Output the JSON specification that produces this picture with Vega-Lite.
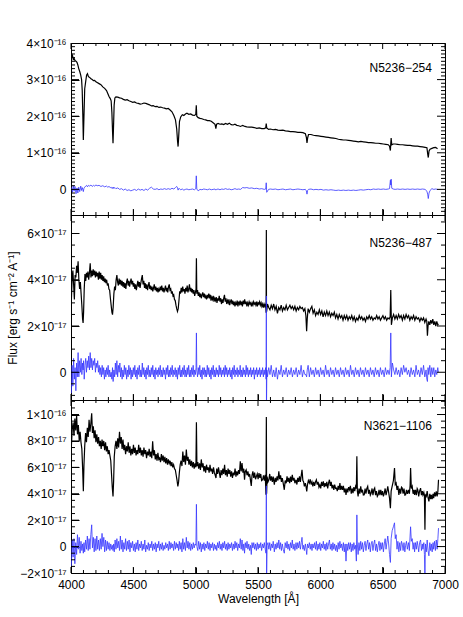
{
"$schema": "https://vega.github.io/schema/vega-lite/v6.json",
"padding": {"left": 5, "top": 36, "right": 2, "bottom": 2},
"spacing": 0,
"bounds": "flush",
"config": {
  "view": {"stroke": "black", "strokeWidth": 1},
  "font": "Liberation Sans",
  "axis": {"domain": false, "ticks": true, "zindex": 2, "tickColor": "#000000", "tickOpacity": 1, "labelColor": "black", "titleColor": "black", "labelFont": "Liberation Sans", "labelFontSize": 12, "titleFont": "Liberation Sans", "titleFontSize": 12, "titleFontWeight": "normal", "grid": false, "labelOverlap": false, "labelFlush": false, "tickWidth": 1}
},
"datasets": {
"xt": [{"v":4000,"m":1},{"v":4100,"m":0},{"v":4200,"m":0},{"v":4300,"m":0},{"v":4400,"m":0},{"v":4500,"m":1},{"v":4600,"m":0},{"v":4700,"m":0},{"v":4800,"m":0},{"v":4900,"m":0},{"v":5000,"m":1},{"v":5100,"m":0},{"v":5200,"m":0},{"v":5300,"m":0},{"v":5400,"m":0},{"v":5500,"m":1},{"v":5600,"m":0},{"v":5700,"m":0},{"v":5800,"m":0},{"v":5900,"m":0},{"v":6000,"m":1},{"v":6100,"m":0},{"v":6200,"m":0},{"v":6300,"m":0},{"v":6400,"m":0},{"v":6500,"m":1},{"v":6600,"m":0},{"v":6700,"m":0},{"v":6800,"m":0},{"v":6900,"m":0},{"v":7000,"m":1}],
"yt1": [{"v":-6,"m":0},{"v":-5,"m":0},{"v":-4,"m":0},{"v":-3,"m":0},{"v":-2,"m":0},{"v":-1,"m":0},{"v":0,"m":1},{"v":1,"m":0},{"v":2,"m":0},{"v":3,"m":0},{"v":4,"m":0},{"v":5,"m":0},{"v":6,"m":0},{"v":7,"m":0},{"v":8,"m":0},{"v":9,"m":0},{"v":10,"m":1},{"v":11,"m":0},{"v":12,"m":0},{"v":13,"m":0},{"v":14,"m":0},{"v":15,"m":0},{"v":16,"m":0},{"v":17,"m":0},{"v":18,"m":0},{"v":19,"m":0},{"v":20,"m":1},{"v":21,"m":0},{"v":22,"m":0},{"v":23,"m":0},{"v":24,"m":0},{"v":25,"m":0},{"v":26,"m":0},{"v":27,"m":0},{"v":28,"m":0},{"v":29,"m":0},{"v":30,"m":1},{"v":31,"m":0},{"v":32,"m":0},{"v":33,"m":0},{"v":34,"m":0},{"v":35,"m":0},{"v":36,"m":0},{"v":37,"m":0},{"v":38,"m":0},{"v":39,"m":0}],
"yt2": [{"v":-1,"m":0},{"v":-0.5,"m":0},{"v":0,"m":1},{"v":0.5,"m":0},{"v":1,"m":0},{"v":1.5,"m":0},{"v":2,"m":1},{"v":2.5,"m":0},{"v":3,"m":0},{"v":3.5,"m":0},{"v":4,"m":1},{"v":4.5,"m":0},{"v":5,"m":0},{"v":5.5,"m":0},{"v":6,"m":1},{"v":6.5,"m":0}],
"yt3": [{"v":-1.5,"m":0},{"v":-1,"m":0},{"v":-0.5,"m":0},{"v":0,"m":1},{"v":0.5,"m":0},{"v":1,"m":0},{"v":1.5,"m":0},{"v":2,"m":1},{"v":2.5,"m":0},{"v":3,"m":0},{"v":3.5,"m":0},{"v":4,"m":1},{"v":4.5,"m":0},{"v":5,"m":0},{"v":5.5,"m":0},{"v":6,"m":1},{"v":6.5,"m":0},{"v":7,"m":0},{"v":7.5,"m":0},{"v":8,"m":1},{"v":8.5,"m":0},{"v":9,"m":0},{"v":9.5,"m":0},{"v":10,"m":1},{"v":10.5,"m":0},{"v":11,"m":0}],
"p1": [
{"w":4005,"f":36.0,"r":0.5},{"w":4012,"f":36.6,"r":-0.8},{"w":4018,"f":35.5,"r":1.0},{"w":4025,"f":35.8,"r":-0.5},{"w":4032,"f":35.2,"r":0.8},{"w":4040,"f":35.0,"r":-1.2},{"w":4048,"f":34.7,"r":0.4},{"w":4055,"f":34.0,"r":-1.0},{"w":4062,"f":33.0,"r":0.6},{"w":4070,"f":32.2,"r":-0.6},{"w":4078,"f":31.2,"r":0.9},{"w":4085,"f":30.0,"r":-0.3},{"w":4090,"f":27.0,"r":0.5},{"w":4095,"f":20.0,"r":0.0},{"w":4099,"f":13.5,"r":-0.6},{"w":4104,"f":20.0,"r":0.3},{"w":4110,"f":27.5,"r":0.6},{"w":4118,"f":29.5,"r":0.9},{"w":4125,"f":31.2,"r":1.1},{"w":4132,"f":31.6,"r":0.7},{"w":4140,"f":30.8,"r":1.1},{"w":4150,"f":30.6,"r":0.9},{"w":4160,"f":30.2,"r":1.2},{"w":4170,"f":30.0,"r":0.8},{"w":4180,"f":29.7,"r":1.1},{"w":4190,"f":29.8,"r":0.9},{"w":4200,"f":29.4,"r":1.2},{"w":4210,"f":29.2,"r":1.0},{"w":4225,"f":28.9,"r":1.1},{"w":4240,"f":28.6,"r":0.8},{"w":4255,"f":28.0,"r":1.0},{"w":4270,"f":27.6,"r":0.7},{"w":4285,"f":27.0,"r":0.9},{"w":4295,"f":26.2,"r":0.6},{"w":4305,"f":25.4,"r":0.8},{"w":4315,"f":24.8,"r":0.5},{"w":4322,"f":24.2,"r":0.6},{"w":4328,"f":21.0,"r":0.3},{"w":4333,"f":16.0,"r":0.5},{"w":4337,"f":12.6,"r":0.2},{"w":4341,"f":17.0,"r":0.6},{"w":4346,"f":23.0,"r":0.3},{"w":4352,"f":25.0,"r":0.5},{"w":4360,"f":25.3,"r":0.2},{"w":4375,"f":25.2,"r":0.4},{"w":4390,"f":25.0,"r":0.0},{"w":4405,"f":24.9,"r":0.2},{"w":4420,"f":24.6,"r":-0.2},{"w":4435,"f":24.4,"r":0.1},{"w":4450,"f":24.5,"r":-0.3},{"w":4465,"f":24.2,"r":-0.1},{"w":4480,"f":24.0,"r":-0.4},{"w":4495,"f":23.8,"r":-0.2},{"w":4510,"f":23.9,"r":0.0},{"w":4525,"f":23.6,"r":-0.3},{"w":4540,"f":23.5,"r":0.1},{"w":4555,"f":23.3,"r":-0.2},{"w":4570,"f":23.4,"r":0.0},{"w":4585,"f":23.6,"r":-0.3},{"w":4600,"f":23.5,"r":0.1},{"w":4615,"f":23.3,"r":-0.2},{"w":4630,"f":23.1,"r":0.3},{"w":4645,"f":22.8,"r":0.6},{"w":4660,"f":22.9,"r":0.1},{"w":4675,"f":22.6,"r":0.0},{"w":4690,"f":22.7,"r":0.2},{"w":4705,"f":22.4,"r":-0.1},{"w":4720,"f":22.5,"r":0.1},{"w":4735,"f":22.3,"r":0.0},{"w":4750,"f":22.2,"r":0.2},{"w":4765,"f":22.0,"r":0.0},{"w":4780,"f":22.1,"r":0.2},{"w":4795,"f":21.7,"r":0.0},{"w":4810,"f":21.2,"r":0.3},{"w":4825,"f":20.2,"r":0.1},{"w":4838,"f":19.0,"r":0.5},{"w":4848,"f":16.5,"r":0.8},{"w":4855,"f":13.0,"r":0.4},{"w":4859,"f":11.7,"r":-0.2},{"w":4864,"f":14.5,"r":0.2},{"w":4870,"f":18.5,"r":0.2},{"w":4880,"f":19.8,"r":-0.1},{"w":4893,"f":20.4,"r":0.1},{"w":4905,"f":20.2,"r":-0.2},{"w":4918,"f":20.6,"r":0.0},{"w":4930,"f":20.8,"r":0.1},{"w":4945,"f":20.5,"r":-0.1},{"w":4960,"f":20.6,"r":0.0},{"w":4975,"f":20.3,"r":0.1},{"w":4990,"f":20.2,"r":-0.1},{"w":5001,"f":20.5,"r":0.2},{"w":5005,"f":23.0,"r":3.7},{"w":5009,"f":20.0,"r":0.1},{"w":5020,"f":19.6,"r":-0.4},{"w":5035,"f":19.4,"r":0.0},{"w":5050,"f":19.3,"r":-0.1},{"w":5065,"f":19.1,"r":0.1},{"w":5080,"f":19.0,"r":0.0},{"w":5095,"f":18.8,"r":-0.1},{"w":5110,"f":18.8,"r":0.1},{"w":5125,"f":18.6,"r":-0.1},{"w":5140,"f":18.2,"r":0.0},{"w":5155,"f":17.8,"r":0.1},{"w":5162,"f":16.6,"r":-0.2},{"w":5168,"f":17.8,"r":0.0},{"w":5180,"f":18.0,"r":0.1},{"w":5195,"f":17.8,"r":-0.1},{"w":5210,"f":17.9,"r":0.1},{"w":5225,"f":17.7,"r":0.0},{"w":5240,"f":18.0,"r":0.2},{"w":5255,"f":17.8,"r":0.0},{"w":5270,"f":18.1,"r":0.1},{"w":5285,"f":17.7,"r":-0.1},{"w":5300,"f":17.6,"r":0.0},{"w":5315,"f":17.8,"r":0.2},{"w":5330,"f":17.5,"r":0.0},{"w":5345,"f":17.4,"r":0.1},{"w":5360,"f":17.2,"r":0.0},{"w":5377,"f":17.5,"r":0.5},{"w":5395,"f":17.2,"r":0.4},{"w":5410,"f":17.1,"r":0.5},{"w":5430,"f":17.0,"r":0.3},{"w":5450,"f":17.0,"r":0.4},{"w":5470,"f":16.9,"r":0.2},{"w":5490,"f":16.7,"r":0.3},{"w":5510,"f":16.8,"r":0.1},{"w":5530,"f":16.6,"r":0.2},{"w":5550,"f":16.6,"r":0.0},{"w":5562,"f":16.8,"r":0.1},{"w":5566,"f":18.0,"r":1.8},{"w":5570,"f":16.8,"r":-0.8},{"w":5585,"f":16.4,"r":0.0},{"w":5600,"f":16.5,"r":0.1},{"w":5620,"f":16.3,"r":0.0},{"w":5640,"f":16.4,"r":0.1},{"w":5660,"f":16.2,"r":-0.1},{"w":5680,"f":16.1,"r":0.0},{"w":5700,"f":16.2,"r":0.1},{"w":5720,"f":16.0,"r":-0.1},{"w":5740,"f":15.9,"r":0.0},{"w":5760,"f":15.8,"r":0.1},{"w":5780,"f":15.8,"r":-0.1},{"w":5800,"f":15.7,"r":0.0},{"w":5820,"f":15.6,"r":0.1},{"w":5840,"f":15.6,"r":0.0},{"w":5860,"f":15.5,"r":-0.1},{"w":5880,"f":15.2,"r":0.0},{"w":5888,"f":14.2,"r":-0.4},{"w":5893,"f":12.7,"r":-1.3},{"w":5898,"f":14.0,"r":-0.3},{"w":5905,"f":15.0,"r":0.0},{"w":5925,"f":15.0,"r":0.1},{"w":5945,"f":14.8,"r":-0.1},{"w":5965,"f":14.7,"r":0.0},{"w":5985,"f":14.6,"r":-0.1},{"w":6005,"f":14.5,"r":0.0},{"w":6025,"f":14.4,"r":-0.2},{"w":6045,"f":14.3,"r":-0.1},{"w":6065,"f":14.2,"r":-0.2},{"w":6085,"f":14.1,"r":-0.1},{"w":6105,"f":14.0,"r":-0.2},{"w":6125,"f":13.9,"r":-0.3},{"w":6145,"f":13.7,"r":-0.2},{"w":6165,"f":13.6,"r":-0.3},{"w":6185,"f":13.5,"r":-0.2},{"w":6205,"f":13.5,"r":-0.3},{"w":6225,"f":13.4,"r":-0.2},{"w":6245,"f":13.3,"r":-0.3},{"w":6265,"f":13.2,"r":-0.2},{"w":6285,"f":13.1,"r":-0.3},{"w":6305,"f":13.0,"r":-0.2},{"w":6325,"f":13.1,"r":-0.1},{"w":6345,"f":13.0,"r":-0.2},{"w":6365,"f":12.9,"r":-0.1},{"w":6385,"f":12.8,"r":0.0},{"w":6405,"f":12.8,"r":-0.1},{"w":6425,"f":12.7,"r":0.1},{"w":6445,"f":12.6,"r":0.0},{"w":6465,"f":12.6,"r":0.1},{"w":6485,"f":12.5,"r":0.0},{"w":6505,"f":12.4,"r":0.1},{"w":6525,"f":12.3,"r":0.0},{"w":6545,"f":12.2,"r":0.1},{"w":6555,"f":11.8,"r":0.2},{"w":6562,"f":10.6,"r":2.5},{"w":6565,"f":12.5,"r":1.2},{"w":6568,"f":14.0,"r":2.8},{"w":6573,"f":12.2,"r":0.3},{"w":6585,"f":12.4,"r":0.1},{"w":6600,"f":12.4,"r":0.0},{"w":6620,"f":12.3,"r":0.1},{"w":6640,"f":12.2,"r":0.0},{"w":6660,"f":12.2,"r":0.1},{"w":6680,"f":12.1,"r":0.0},{"w":6700,"f":12.0,"r":0.1},{"w":6720,"f":12.0,"r":0.0},{"w":6740,"f":11.9,"r":0.1},{"w":6760,"f":11.8,"r":0.0},{"w":6780,"f":11.8,"r":0.1},{"w":6800,"f":11.7,"r":0.0},{"w":6820,"f":11.6,"r":0.1},{"w":6840,"f":11.5,"r":0.0},{"w":6855,"f":11.4,"r":-0.5},{"w":6862,"f":9.5,"r":-1.5},{"w":6866,"f":8.7,"r":-2.5},{"w":6872,"f":10.5,"r":-1.0},{"w":6880,"f":11.0,"r":-0.3},{"w":6895,"f":11.2,"r":0.2},{"w":6910,"f":11.4,"r":0.0},{"w":6925,"f":11.5,"r":0.1},{"w":6940,"f":11.1,"r":0.0}
],
"p2": [
{"w":4003,"f":3.10,"r":-0.90},{"w":4009,"f":4.05,"r":0.30},{"w":4015,"f":4.40,"r":-0.60},{"w":4021,"f":3.80,"r":0.60},{"w":4027,"f":3.15,"r":-0.30},{"w":4033,"f":4.20,"r":0.20},{"w":4039,"f":4.10,"r":-0.80},{"w":4045,"f":4.60,"r":0.40},{"w":4051,"f":4.30,"r":-0.20},{"w":4057,"f":4.80,"r":0.85},{"w":4063,"f":4.00,"r":-0.20},{"w":4069,"f":3.60,"r":0.50},{"w":4075,"f":3.90,"r":0.00},{"w":4081,"f":3.40,"r":0.60},{"w":4087,"f":2.90,"r":-0.10},{"w":4093,"f":2.30,"r":0.40},{"w":4097,"f":2.13,"r":0.10},{"w":4101,"f":2.60,"r":0.50},{"w":4106,"f":3.60,"r":-0.30},{"w":4112,"f":4.25,"r":0.30},{"w":4118,"f":3.95,"r":0.60},{"w":4124,"f":4.30,"r":0.00},{"w":4130,"f":4.10,"r":0.50},{"w":4136,"f":4.35,"r":0.20},{"w":4142,"f":4.00,"r":0.70},{"w":4148,"f":4.30,"r":0.10},{"w":4154,"f":4.71,"r":0.85},{"w":4160,"f":4.10,"r":0.20},{"w":4166,"f":4.40,"r":0.60},{"w":4172,"f":4.15,"r":0.10},{"w":4178,"f":4.45,"r":0.50},{"w":4184,"f":4.20,"r":0.30},{"w":4190,"f":4.40,"r":0.60},{"w":4196,"f":4.10,"r":0.00},{"w":4202,"f":4.35,"r":0.40},{"w":4208,"f":4.15,"r":0.20},{"w":4214,"f":4.30,"r":0.50},{"w":4220,"f":4.00,"r":0.00},{"w":4226,"f":4.35,"r":0.30},{"w":4232,"f":4.05,"r":-0.10},{"w":4238,"f":4.30,"r":0.20},{"w":4244,"f":4.00,"r":-0.20},{"w":4250,"f":4.20,"r":0.30},{"w":4256,"f":3.95,"r":-0.10},{"w":4262,"f":4.15,"r":0.20},{"w":4268,"f":3.90,"r":-0.30},{"w":4274,"f":4.05,"r":0.10},{"w":4280,"f":3.85,"r":-0.20},{"w":4286,"f":4.00,"r":0.20},{"w":4292,"f":3.75,"r":-0.10},{"w":4298,"f":3.85,"r":0.30},{"w":4304,"f":3.60,"r":-0.20},{"w":4310,"f":3.55,"r":0.10},{"w":4316,"f":3.20,"r":-0.20},{"w":4322,"f":2.90,"r":0.00},{"w":4328,"f":2.60,"r":-0.30},{"w":4333,"f":2.49,"r":0.20},{"w":4338,"f":2.80,"r":-0.40},{"w":4344,"f":3.40,"r":0.10},{"w":4350,"f":3.70,"r":-0.20},{"w":4356,"f":3.55,"r":0.40},{"w":4362,"f":4.00,"r":-0.10},{"w":4368,"f":4.20,"r":0.50},{"w":4374,"f":3.90,"r":-0.20},{"w":4380,"f":3.75,"r":0.30},{"w":4386,"f":4.05,"r":0.00},{"w":4392,"f":3.80,"r":0.40},{"w":4398,"f":4.00,"r":-0.20},{"w":4404,"f":3.75,"r":0.20},{"w":4410,"f":3.95,"r":-0.30},{"w":4416,"f":3.70,"r":0.10},{"w":4422,"f":3.90,"r":-0.20},{"w":4428,"f":3.65,"r":0.30},{"w":4434,"f":3.85,"r":-0.10},{"w":4440,"f":3.60,"r":0.20},{"w":4446,"f":3.90,"r":-0.30},{"w":4452,"f":4.05,"r":0.10},{"w":4458,"f":3.75,"r":-0.20},{"w":4464,"f":3.95,"r":0.30},{"w":4470,"f":3.70,"r":-0.10},{"w":4476,"f":3.90,"r":0.20},{"w":4482,"f":4.05,"r":-0.30},{"w":4488,"f":3.80,"r":0.10},{"w":4494,"f":3.95,"r":-0.20},{"w":4500,"f":3.70,"r":0.20},{"w":4506,"f":3.85,"r":-0.10},{"w":4512,"f":3.60,"r":0.30},{"w":4518,"f":3.80,"r":-0.20},{"w":4524,"f":3.55,"r":0.10},{"w":4530,"f":3.75,"r":-0.30},{"w":4536,"f":3.95,"r":0.20},{"w":4542,"f":3.70,"r":-0.10},{"w":4548,"f":3.90,"r":0.30},{"w":4554,"f":3.65,"r":-0.20},{"w":4560,"f":3.85,"r":0.10},{"w":4566,"f":4.05,"r":-0.20},{"w":4572,"f":4.20,"r":0.40},{"w":4578,"f":3.80,"r":-0.10},{"w":4584,"f":3.95,"r":0.20},{"w":4590,"f":3.65,"r":-0.20},{"w":4596,"f":3.85,"r":0.10},{"w":4602,"f":3.60,"r":-0.30},{"w":4608,"f":3.80,"r":0.20},{"w":4614,"f":3.55,"r":-0.10},{"w":4620,"f":3.75,"r":0.30},{"w":4626,"f":3.90,"r":-0.20},{"w":4632,"f":3.60,"r":0.10},{"w":4638,"f":3.75,"r":-0.20},{"w":4644,"f":3.55,"r":0.20},{"w":4650,"f":3.70,"r":-0.10},{"w":4656,"f":3.50,"r":0.30},{"w":4662,"f":3.65,"r":-0.20},{"w":4668,"f":3.80,"r":0.10},{"w":4674,"f":3.55,"r":-0.30},{"w":4680,"f":3.70,"r":0.20},{"w":4686,"f":3.50,"r":-0.10},{"w":4692,"f":3.65,"r":0.10},{"w":4698,"f":3.45,"r":-0.20},{"w":4704,"f":3.60,"r":0.20},{"w":4710,"f":3.50,"r":-0.10},{"w":4716,"f":3.70,"r":0.30},{"w":4722,"f":3.55,"r":-0.20},{"w":4728,"f":3.75,"r":0.10},{"w":4734,"f":3.50,"r":-0.20},{"w":4740,"f":3.65,"r":0.20},{"w":4746,"f":3.45,"r":-0.10},{"w":4752,"f":3.60,"r":0.10},{"w":4758,"f":3.75,"r":-0.30},{"w":4764,"f":3.50,"r":0.20},{"w":4770,"f":3.65,"r":-0.10},{"w":4776,"f":3.45,"r":0.30},{"w":4782,"f":3.70,"r":-0.20},{"w":4788,"f":3.80,"r":0.10},{"w":4794,"f":3.55,"r":-0.20},{"w":4800,"f":3.60,"r":0.20},{"w":4806,"f":3.40,"r":-0.10},{"w":4812,"f":3.50,"r":0.30},{"w":4818,"f":3.30,"r":-0.20},{"w":4824,"f":3.35,"r":0.10},{"w":4830,"f":3.15,"r":-0.10},{"w":4836,"f":3.10,"r":0.20},{"w":4842,"f":2.90,"r":-0.20},{"w":4848,"f":2.75,"r":0.10},{"w":4854,"f":2.63,"r":-0.30},{"w":4860,"f":2.75,"r":0.20},{"w":4866,"f":3.10,"r":-0.10},{"w":4872,"f":3.50,"r":0.30},{"w":4878,"f":3.40,"r":-0.20},{"w":4884,"f":3.65,"r":0.10},{"w":4890,"f":3.45,"r":-0.20},{"w":4896,"f":3.70,"r":0.20},{"w":4902,"f":3.50,"r":-0.10},{"w":4908,"f":3.60,"r":0.30},{"w":4914,"f":3.40,"r":-0.20},{"w":4920,"f":3.65,"r":0.10},{"w":4926,"f":3.50,"r":-0.20},{"w":4932,"f":3.75,"r":0.20},{"w":4938,"f":3.45,"r":-0.10},{"w":4944,"f":3.60,"r":0.30},{"w":4950,"f":3.80,"r":-0.20},{"w":4956,"f":3.50,"r":0.10},{"w":4962,"f":3.65,"r":-0.20},{"w":4968,"f":3.45,"r":0.20},{"w":4974,"f":3.60,"r":-0.10},{"w":4980,"f":3.40,"r":0.30},{"w":4986,"f":3.55,"r":-0.20},{"w":4992,"f":3.30,"r":0.10},{"w":4998,"f":3.45,"r":-0.10},{"w":5003,"f":3.60,"r":0.20},{"w":5006,"f":4.93,"r":1.70},{"w":5009,"f":3.40,"r":0.10},{"w":5015,"f":3.55,"r":-0.20},{"w":5021,"f":3.30,"r":0.20},{"w":5027,"f":3.45,"r":-0.10},{"w":5033,"f":3.25,"r":0.30},{"w":5039,"f":3.40,"r":-0.20},{"w":5045,"f":3.20,"r":0.10},{"w":5051,"f":3.35,"r":-0.30},{"w":5057,"f":3.45,"r":0.20},{"w":5063,"f":3.25,"r":-0.10},{"w":5069,"f":3.40,"r":0.20},{"w":5075,"f":3.20,"r":-0.20},{"w":5081,"f":3.30,"r":0.10},{"w":5087,"f":3.15,"r":-0.20},{"w":5093,"f":3.35,"r":0.30},{"w":5099,"f":3.20,"r":-0.10},{"w":5105,"f":3.40,"r":0.20},{"w":5111,"f":3.25,"r":-0.20},{"w":5117,"f":3.35,"r":0.10},{"w":5123,"f":3.10,"r":-0.30},{"w":5129,"f":3.25,"r":0.20},{"w":5135,"f":3.15,"r":-0.10},{"w":5141,"f":3.30,"r":0.30},{"w":5147,"f":3.05,"r":-0.20},{"w":5153,"f":3.20,"r":0.10},{"w":5159,"f":3.10,"r":-0.20},{"w":5165,"f":3.25,"r":0.20},{"w":5171,"f":3.00,"r":-0.10},{"w":5177,"f":3.20,"r":0.10},{"w":5183,"f":3.10,"r":-0.20},{"w":5189,"f":3.30,"r":0.30},{"w":5195,"f":3.05,"r":-0.10},{"w":5201,"f":3.20,"r":0.20},{"w":5207,"f":2.95,"r":-0.20},{"w":5213,"f":3.15,"r":0.10},{"w":5219,"f":3.00,"r":-0.10},{"w":5225,"f":3.20,"r":0.20},{"w":5231,"f":3.35,"r":-0.20},{"w":5237,"f":3.05,"r":0.30},{"w":5243,"f":3.20,"r":-0.10},{"w":5249,"f":2.95,"r":0.20},{"w":5255,"f":3.10,"r":-0.20},{"w":5261,"f":3.00,"r":0.10},{"w":5267,"f":3.15,"r":-0.10},{"w":5273,"f":2.90,"r":0.20},{"w":5279,"f":3.05,"r":-0.20},{"w":5285,"f":3.15,"r":0.10},{"w":5291,"f":2.95,"r":-0.30},{"w":5297,"f":3.10,"r":0.20},{"w":5303,"f":2.90,"r":-0.10},{"w":5309,"f":3.05,"r":0.30},{"w":5315,"f":2.85,"r":-0.20},{"w":5321,"f":3.00,"r":0.10},{"w":5327,"f":2.90,"r":-0.10},{"w":5333,"f":3.10,"r":0.20},{"w":5339,"f":2.85,"r":-0.20},{"w":5345,"f":3.05,"r":0.10},{"w":5351,"f":2.95,"r":-0.10},{"w":5357,"f":3.10,"r":0.30},{"w":5363,"f":2.90,"r":-0.20},{"w":5369,"f":3.05,"r":0.10},{"w":5375,"f":2.85,"r":-0.20},{"w":5381,"f":3.10,"r":0.20},{"w":5387,"f":2.95,"r":-0.10},{"w":5393,"f":3.15,"r":0.10},{"w":5399,"f":2.95,"r":-0.20},{"w":5405,"f":3.05,"r":0.30},{"w":5411,"f":2.85,"r":-0.10},{"w":5417,"f":3.00,"r":0.20},{"w":5423,"f":2.90,"r":-0.20},{"w":5429,"f":3.05,"r":0.10},{"w":5435,"f":2.95,"r":-0.10},{"w":5441,"f":3.00,"r":0.20},{"w":5447,"f":2.85,"r":-0.20},{"w":5453,"f":3.00,"r":0.10},{"w":5459,"f":2.90,"r":-0.10},{"w":5465,"f":3.05,"r":0.20},{"w":5471,"f":2.95,"r":-0.30},{"w":5477,"f":3.00,"r":0.10},{"w":5483,"f":2.90,"r":-0.10},{"w":5489,"f":3.05,"r":0.20},{"w":5495,"f":2.85,"r":-0.20},{"w":5501,"f":3.00,"r":0.10},{"w":5507,"f":2.95,"r":-0.10},{"w":5513,"f":3.05,"r":0.20},{"w":5519,"f":2.90,"r":-0.20},{"w":5525,"f":3.00,"r":0.10},{"w":5531,"f":2.85,"r":-0.10},{"w":5537,"f":2.95,"r":0.20},{"w":5543,"f":2.80,"r":-0.20},{"w":5549,"f":2.95,"r":0.10},{"w":5555,"f":2.85,"r":-0.10},{"w":5561,"f":2.95,"r":0.20},{"w":5565,"f":2.57,"r":-0.30},{"w":5567,"f":6.15,"r":3.30},{"w":5568,"f":2.60,"r":-1.60},{"w":5571,"f":2.70,"r":0.10},{"w":5576,"f":2.95,"r":-0.20},{"w":5586,"f":2.80,"r":0.20},{"w":5596,"f":2.70,"r":-0.10},{"w":5606,"f":2.90,"r":0.30},{"w":5616,"f":2.75,"r":-0.20},{"w":5626,"f":2.95,"r":0.10},{"w":5636,"f":2.70,"r":-0.20},{"w":5646,"f":2.85,"r":0.20},{"w":5656,"f":2.55,"r":-0.30},{"w":5666,"f":2.80,"r":0.10},{"w":5676,"f":2.70,"r":-0.10},{"w":5686,"f":2.90,"r":0.30},{"w":5696,"f":2.65,"r":-0.20},{"w":5706,"f":2.80,"r":0.10},{"w":5716,"f":2.70,"r":-0.10},{"w":5726,"f":2.90,"r":0.20},{"w":5736,"f":2.70,"r":-0.20},{"w":5746,"f":2.80,"r":0.10},{"w":5756,"f":2.90,"r":-0.10},{"w":5766,"f":2.75,"r":0.20},{"w":5776,"f":2.85,"r":-0.20},{"w":5786,"f":2.70,"r":0.10},{"w":5796,"f":2.85,"r":-0.10},{"w":5806,"f":2.65,"r":0.20},{"w":5816,"f":2.80,"r":-0.20},{"w":5826,"f":2.70,"r":0.10},{"w":5836,"f":2.85,"r":-0.10},{"w":5846,"f":2.75,"r":0.30},{"w":5856,"f":2.80,"r":-0.20},{"w":5866,"f":2.65,"r":0.10},{"w":5876,"f":2.75,"r":-0.10},{"w":5884,"f":2.45,"r":-0.10},{"w":5890,"f":1.77,"r":-0.20},{"w":5895,"f":2.30,"r":0.10},{"w":5902,"f":2.75,"r":0.30},{"w":5912,"f":2.60,"r":-0.20},{"w":5922,"f":2.75,"r":0.20},{"w":5932,"f":2.85,"r":-0.10},{"w":5942,"f":2.55,"r":0.10},{"w":5952,"f":2.70,"r":-0.20},{"w":5962,"f":2.45,"r":0.20},{"w":5972,"f":2.60,"r":-0.10},{"w":5982,"f":2.50,"r":0.10},{"w":5992,"f":2.70,"r":-0.20},{"w":6002,"f":2.50,"r":0.20},{"w":6012,"f":2.65,"r":-0.10},{"w":6022,"f":2.40,"r":0.10},{"w":6032,"f":2.60,"r":-0.20},{"w":6042,"f":2.45,"r":0.30},{"w":6052,"f":2.65,"r":-0.10},{"w":6062,"f":2.45,"r":0.10},{"w":6072,"f":2.60,"r":-0.20},{"w":6082,"f":2.40,"r":0.20},{"w":6092,"f":2.55,"r":-0.10},{"w":6102,"f":2.45,"r":0.10},{"w":6112,"f":2.60,"r":-0.20},{"w":6122,"f":2.35,"r":0.20},{"w":6132,"f":2.50,"r":-0.10},{"w":6142,"f":2.30,"r":0.10},{"w":6152,"f":2.50,"r":-0.20},{"w":6162,"f":2.35,"r":0.20},{"w":6172,"f":2.45,"r":-0.10},{"w":6182,"f":2.25,"r":0.10},{"w":6192,"f":2.45,"r":-0.20},{"w":6202,"f":2.30,"r":0.20},{"w":6212,"f":2.45,"r":-0.10},{"w":6222,"f":2.25,"r":0.10},{"w":6232,"f":2.40,"r":-0.20},{"w":6242,"f":2.30,"r":0.30},{"w":6252,"f":2.45,"r":-0.10},{"w":6262,"f":2.25,"r":0.10},{"w":6272,"f":2.40,"r":-0.20},{"w":6282,"f":2.20,"r":0.20},{"w":6292,"f":2.35,"r":-0.10},{"w":6302,"f":2.25,"r":0.10},{"w":6312,"f":2.45,"r":-0.20},{"w":6322,"f":2.30,"r":0.20},{"w":6332,"f":2.40,"r":-0.10},{"w":6342,"f":2.25,"r":0.10},{"w":6352,"f":2.35,"r":-0.20},{"w":6362,"f":2.20,"r":0.20},{"w":6372,"f":2.40,"r":-0.10},{"w":6382,"f":2.30,"r":0.10},{"w":6392,"f":2.45,"r":-0.20},{"w":6402,"f":2.30,"r":0.20},{"w":6412,"f":2.40,"r":-0.10},{"w":6422,"f":2.25,"r":0.10},{"w":6432,"f":2.35,"r":-0.20},{"w":6442,"f":2.30,"r":0.20},{"w":6452,"f":2.45,"r":-0.10},{"w":6462,"f":2.30,"r":0.10},{"w":6472,"f":2.40,"r":-0.20},{"w":6482,"f":2.25,"r":0.20},{"w":6492,"f":2.35,"r":-0.10},{"w":6502,"f":2.45,"r":0.10},{"w":6512,"f":2.30,"r":-0.20},{"w":6522,"f":2.40,"r":0.20},{"w":6532,"f":2.25,"r":-0.10},{"w":6542,"f":2.35,"r":0.10},{"w":6552,"f":2.30,"r":-0.10},{"w":6560,"f":2.40,"r":0.20},{"w":6565,"f":3.56,"r":1.70},{"w":6570,"f":2.05,"r":-0.20},{"w":6578,"f":2.35,"r":0.40},{"w":6588,"f":2.50,"r":0.10},{"w":6598,"f":2.30,"r":-0.10},{"w":6608,"f":2.45,"r":0.20},{"w":6618,"f":2.30,"r":-0.10},{"w":6628,"f":2.50,"r":0.10},{"w":6638,"f":2.35,"r":-0.20},{"w":6648,"f":2.45,"r":0.20},{"w":6658,"f":2.25,"r":-0.10},{"w":6668,"f":2.45,"r":0.30},{"w":6678,"f":2.30,"r":0.00},{"w":6688,"f":2.50,"r":0.20},{"w":6698,"f":2.35,"r":-0.10},{"w":6708,"f":2.45,"r":0.10},{"w":6718,"f":2.25,"r":-0.20},{"w":6728,"f":2.40,"r":0.20},{"w":6738,"f":2.30,"r":-0.10},{"w":6748,"f":2.45,"r":0.10},{"w":6758,"f":2.25,"r":-0.20},{"w":6768,"f":2.40,"r":0.30},{"w":6778,"f":2.30,"r":-0.10},{"w":6788,"f":2.35,"r":0.10},{"w":6798,"f":2.20,"r":-0.20},{"w":6808,"f":2.35,"r":0.20},{"w":6818,"f":2.25,"r":-0.10},{"w":6828,"f":2.35,"r":0.30},{"w":6838,"f":2.15,"r":-0.20},{"w":6848,"f":2.30,"r":0.10},{"w":6854,"f":2.20,"r":-0.30},{"w":6859,"f":1.58,"r":-0.40},{"w":6864,"f":2.00,"r":0.20},{"w":6870,"f":2.20,"r":-0.10},{"w":6878,"f":2.05,"r":0.30},{"w":6886,"f":2.25,"r":-0.20},{"w":6894,"f":2.10,"r":0.20},{"w":6902,"f":2.30,"r":-0.10},{"w":6910,"f":2.05,"r":0.20},{"w":6918,"f":2.20,"r":-0.20},{"w":6926,"f":2.00,"r":0.10},{"w":6934,"f":2.20,"r":-0.10},{"w":6942,"f":2.05,"r":0.20},{"w":6947,"f":2.10,"r":0.00}
],
"p3": [
{"w":4003,"f":7.6,"r":-1.5},{"w":4010,"f":8.9,"r":0.5},{"w":4017,"f":9.4,"r":-0.8},{"w":4024,"f":8.4,"r":0.6},{"w":4031,"f":9.7,"r":-1.3},{"w":4038,"f":8.8,"r":0.3},{"w":4045,"f":9.9,"r":-0.6},{"w":4052,"f":8.5,"r":0.9},{"w":4059,"f":9.2,"r":-0.2},{"w":4066,"f":8.0,"r":0.7},{"w":4073,"f":8.7,"r":-0.5},{"w":4080,"f":7.9,"r":0.4},{"w":4087,"f":7.4,"r":-0.3},{"w":4093,"f":6.0,"r":0.2},{"w":4099,"f":4.2,"r":-0.5},{"w":4104,"f":6.2,"r":0.3},{"w":4110,"f":7.6,"r":-0.4},{"w":4117,"f":8.6,"r":0.5},{"w":4124,"f":7.9,"r":-0.2},{"w":4131,"f":9.0,"r":0.8},{"w":4138,"f":8.3,"r":-0.3},{"w":4145,"f":9.6,"r":0.6},{"w":4152,"f":8.7,"r":-0.2},{"w":4159,"f":9.3,"r":0.9},{"w":4166,"f":10.1,"r":1.65},{"w":4172,"f":8.6,"r":-0.1},{"w":4179,"f":9.1,"r":0.7},{"w":4186,"f":8.2,"r":-0.4},{"w":4193,"f":8.8,"r":0.6},{"w":4200,"f":7.9,"r":-0.3},{"w":4207,"f":8.5,"r":0.8},{"w":4214,"f":7.8,"r":-0.2},{"w":4221,"f":8.3,"r":0.5},{"w":4228,"f":7.6,"r":-0.3},{"w":4235,"f":8.0,"r":0.6},{"w":4242,"f":7.4,"r":-0.2},{"w":4249,"f":8.1,"r":1.0},{"w":4256,"f":7.6,"r":0.0},{"w":4263,"f":8.0,"r":0.7},{"w":4270,"f":7.3,"r":-0.4},{"w":4277,"f":7.9,"r":0.5},{"w":4284,"f":7.2,"r":-0.3},{"w":4291,"f":7.6,"r":0.4},{"w":4298,"f":7.0,"r":-0.2},{"w":4305,"f":7.3,"r":0.3},{"w":4312,"f":6.9,"r":-0.3},{"w":4319,"f":6.5,"r":0.2},{"w":4325,"f":5.5,"r":-0.2},{"w":4331,"f":4.5,"r":0.1},{"w":4337,"f":3.8,"r":-0.3},{"w":4342,"f":5.0,"r":0.2},{"w":4347,"f":6.8,"r":-0.4},{"w":4354,"f":7.6,"r":0.5},{"w":4361,"f":8.0,"r":-0.2},{"w":4368,"f":7.4,"r":0.6},{"w":4375,"f":8.2,"r":-0.1},{"w":4382,"f":7.5,"r":0.4},{"w":4389,"f":8.7,"r":-0.3},{"w":4396,"f":7.8,"r":0.8},{"w":4403,"f":8.3,"r":-0.2},{"w":4410,"f":7.4,"r":0.5},{"w":4417,"f":8.1,"r":-0.4},{"w":4424,"f":7.3,"r":0.3},{"w":4431,"f":7.7,"r":-0.2},{"w":4438,"f":7.0,"r":0.6},{"w":4445,"f":7.6,"r":-0.3},{"w":4452,"f":7.2,"r":0.4},{"w":4459,"f":7.9,"r":-0.2},{"w":4466,"f":7.1,"r":0.5},{"w":4473,"f":7.6,"r":-0.4},{"w":4480,"f":6.9,"r":0.3},{"w":4487,"f":7.4,"r":-0.1},{"w":4494,"f":7.0,"r":0.4},{"w":4501,"f":7.7,"r":-0.3},{"w":4508,"f":7.1,"r":0.2},{"w":4515,"f":7.5,"r":-0.4},{"w":4522,"f":6.9,"r":0.3},{"w":4529,"f":7.3,"r":-0.2},{"w":4536,"f":7.0,"r":0.5},{"w":4543,"f":7.7,"r":-0.3},{"w":4550,"f":7.1,"r":0.2},{"w":4557,"f":7.5,"r":-0.1},{"w":4564,"f":6.9,"r":0.4},{"w":4571,"f":7.3,"r":-0.3},{"w":4578,"f":6.8,"r":0.2},{"w":4585,"f":7.5,"r":-0.2},{"w":4592,"f":7.0,"r":0.5},{"w":4599,"f":7.3,"r":-0.4},{"w":4606,"f":6.7,"r":0.1},{"w":4613,"f":7.2,"r":-0.2},{"w":4620,"f":6.9,"r":0.3},{"w":4627,"f":7.4,"r":-0.3},{"w":4634,"f":6.8,"r":0.2},{"w":4641,"f":7.2,"r":-0.1},{"w":4648,"f":6.7,"r":0.4},{"w":4655,"f":7.97,"r":-0.3},{"w":4662,"f":6.9,"r":0.2},{"w":4669,"f":7.3,"r":-0.2},{"w":4676,"f":6.6,"r":0.3},{"w":4683,"f":7.0,"r":-0.4},{"w":4690,"f":6.5,"r":0.2},{"w":4697,"f":7.1,"r":-0.1},{"w":4704,"f":6.6,"r":0.4},{"w":4711,"f":6.7,"r":-0.3},{"w":4718,"f":6.4,"r":0.2},{"w":4725,"f":7.0,"r":-0.2},{"w":4732,"f":6.5,"r":0.3},{"w":4739,"f":6.9,"r":-0.3},{"w":4746,"f":6.4,"r":0.1},{"w":4753,"f":6.8,"r":-0.2},{"w":4760,"f":6.3,"r":0.3},{"w":4767,"f":6.7,"r":-0.1},{"w":4774,"f":6.2,"r":0.2},{"w":4781,"f":6.6,"r":-0.3},{"w":4788,"f":6.3,"r":0.4},{"w":4795,"f":6.5,"r":-0.2},{"w":4802,"f":6.1,"r":0.3},{"w":4809,"f":6.4,"r":-0.1},{"w":4816,"f":6.0,"r":0.2},{"w":4823,"f":6.2,"r":-0.3},{"w":4830,"f":5.9,"r":0.4},{"w":4837,"f":5.8,"r":-0.2},{"w":4844,"f":5.4,"r":0.3},{"w":4851,"f":5.0,"r":-0.1},{"w":4857,"f":4.56,"r":0.2},{"w":4863,"f":4.9,"r":-0.3},{"w":4869,"f":5.6,"r":0.4},{"w":4876,"f":6.2,"r":-0.2},{"w":4883,"f":6.5,"r":0.3},{"w":4890,"f":6.1,"r":-0.4},{"w":4897,"f":7.2,"r":0.6},{"w":4904,"f":6.4,"r":-0.2},{"w":4911,"f":6.9,"r":0.3},{"w":4918,"f":6.2,"r":-0.3},{"w":4925,"f":7.34,"r":0.7},{"w":4932,"f":6.5,"r":-0.1},{"w":4939,"f":6.8,"r":0.4},{"w":4946,"f":6.2,"r":-0.2},{"w":4953,"f":6.6,"r":0.3},{"w":4960,"f":6.1,"r":-0.3},{"w":4967,"f":6.5,"r":0.2},{"w":4974,"f":6.0,"r":-0.2},{"w":4981,"f":6.4,"r":0.3},{"w":4988,"f":5.9,"r":-0.1},{"w":4995,"f":6.3,"r":0.2},{"w":5002,"f":6.0,"r":0.1},{"w":5006,"f":9.42,"r":3.2},{"w":5010,"f":6.1,"r":0.0},{"w":5017,"f":6.4,"r":-0.3},{"w":5024,"f":5.9,"r":0.4},{"w":5031,"f":6.3,"r":-0.2},{"w":5038,"f":5.8,"r":0.3},{"w":5045,"f":6.6,"r":-0.4},{"w":5052,"f":6.0,"r":0.2},{"w":5059,"f":6.3,"r":-0.2},{"w":5066,"f":5.7,"r":0.3},{"w":5073,"f":6.1,"r":-0.3},{"w":5080,"f":5.6,"r":0.2},{"w":5087,"f":6.2,"r":-0.1},{"w":5094,"f":5.8,"r":0.4},{"w":5101,"f":6.0,"r":-0.2},{"w":5108,"f":5.6,"r":0.3},{"w":5115,"f":6.2,"r":-0.3},{"w":5122,"f":5.7,"r":0.2},{"w":5129,"f":5.9,"r":-0.1},{"w":5136,"f":5.5,"r":0.3},{"w":5143,"f":6.0,"r":-0.3},{"w":5150,"f":5.6,"r":0.2},{"w":5157,"f":5.4,"r":-0.2},{"w":5163,"f":5.19,"r":0.1},{"w":5169,"f":5.9,"r":-0.3},{"w":5176,"f":5.5,"r":0.3},{"w":5183,"f":6.0,"r":-0.1},{"w":5190,"f":5.6,"r":0.4},{"w":5197,"f":5.2,"r":-0.2},{"w":5204,"f":5.8,"r":0.2},{"w":5211,"f":5.4,"r":-0.3},{"w":5218,"f":5.9,"r":0.3},{"w":5225,"f":5.5,"r":-0.1},{"w":5232,"f":6.2,"r":0.4},{"w":5239,"f":5.4,"r":-0.2},{"w":5246,"f":5.8,"r":0.2},{"w":5253,"f":5.3,"r":-0.3},{"w":5260,"f":5.9,"r":0.3},{"w":5267,"f":5.5,"r":-0.2},{"w":5274,"f":5.8,"r":0.2},{"w":5281,"f":5.3,"r":-0.1},{"w":5288,"f":5.7,"r":0.3},{"w":5295,"f":5.2,"r":-0.3},{"w":5302,"f":5.6,"r":0.2},{"w":5309,"f":5.4,"r":-0.2},{"w":5316,"f":5.9,"r":0.4},{"w":5323,"f":5.3,"r":-0.1},{"w":5330,"f":5.7,"r":0.3},{"w":5337,"f":5.4,"r":-0.3},{"w":5344,"f":5.8,"r":0.2},{"w":5351,"f":5.5,"r":-0.1},{"w":5358,"f":6.46,"r":0.6},{"w":5365,"f":5.7,"r":-0.2},{"w":5372,"f":6.33,"r":0.5},{"w":5379,"f":5.6,"r":-0.3},{"w":5386,"f":5.9,"r":0.2},{"w":5392,"f":5.06,"r":-0.5},{"w":5398,"f":5.7,"r":0.3},{"w":5405,"f":5.82,"r":-0.1},{"w":5412,"f":5.4,"r":0.4},{"w":5419,"f":5.7,"r":-0.2},{"w":5426,"f":5.3,"r":0.2},{"w":5433,"f":5.5,"r":-0.3},{"w":5440,"f":5.0,"r":0.1},{"w":5446,"f":4.6,"r":-0.6},{"w":5452,"f":5.4,"r":0.3},{"w":5459,"f":5.7,"r":-0.1},{"w":5466,"f":5.2,"r":0.3},{"w":5473,"f":5.6,"r":-0.2},{"w":5480,"f":5.1,"r":0.2},{"w":5487,"f":5.32,"r":-0.3},{"w":5494,"f":5.5,"r":0.3},{"w":5501,"f":5.1,"r":-0.2},{"w":5508,"f":5.57,"r":0.2},{"w":5515,"f":5.2,"r":-0.1},{"w":5522,"f":5.5,"r":0.3},{"w":5529,"f":5.0,"r":-0.3},{"w":5537,"f":5.06,"r":0.2},{"w":5544,"f":5.4,"r":-0.1},{"w":5551,"f":5.0,"r":0.3},{"w":5558,"f":5.44,"r":-0.2},{"w":5564,"f":3.92,"r":-0.5},{"w":5567,"f":9.82,"r":4.6},{"w":5569,"f":4.0,"r":-2.5},{"w":5573,"f":5.3,"r":0.1},{"w":5580,"f":4.9,"r":0.3},{"w":5587,"f":5.06,"r":-0.2},{"w":5594,"f":5.5,"r":0.3},{"w":5601,"f":5.0,"r":-0.3},{"w":5608,"f":5.32,"r":0.2},{"w":5615,"f":4.9,"r":-0.1},{"w":5622,"f":5.3,"r":0.4},{"w":5631,"f":4.68,"r":-0.4},{"w":5638,"f":5.2,"r":0.2},{"w":5645,"f":4.9,"r":-0.2},{"w":5653,"f":5.32,"r":0.3},{"w":5660,"f":5.0,"r":-0.1},{"w":5667,"f":5.7,"r":0.5},{"w":5674,"f":5.1,"r":-0.2},{"w":5681,"f":5.4,"r":0.3},{"w":5688,"f":4.9,"r":-0.3},{"w":5695,"f":5.19,"r":0.2},{"w":5702,"f":4.8,"r":-0.2},{"w":5711,"f":4.3,"r":-0.5},{"w":5718,"f":5.0,"r":0.3},{"w":5726,"f":4.8,"r":-0.1},{"w":5733,"f":5.32,"r":0.4},{"w":5740,"f":4.9,"r":-0.2},{"w":5747,"f":5.2,"r":0.2},{"w":5754,"f":4.8,"r":-0.3},{"w":5761,"f":5.3,"r":0.3},{"w":5768,"f":4.9,"r":-0.1},{"w":5775,"f":5.44,"r":0.5},{"w":5782,"f":5.0,"r":-0.2},{"w":5789,"f":5.2,"r":0.2},{"w":5796,"f":4.8,"r":-0.3},{"w":5805,"f":5.06,"r":0.3},{"w":5812,"f":4.7,"r":-0.2},{"w":5819,"f":5.2,"r":0.3},{"w":5826,"f":4.9,"r":-0.1},{"w":5833,"f":5.32,"r":0.4},{"w":5840,"f":4.9,"r":-0.2},{"w":5847,"f":5.4,"r":0.3},{"w":5853,"f":5.82,"r":0.7},{"w":5860,"f":5.0,"r":-0.2},{"w":5866,"f":4.9,"r":0.1},{"w":5872,"f":4.56,"r":-0.3},{"w":5880,"f":4.8,"r":0.2},{"w":5886,"f":4.5,"r":-0.2},{"w":5891,"f":4.18,"r":-0.6},{"w":5897,"f":4.7,"r":0.2},{"w":5904,"f":5.0,"r":-0.1},{"w":5912,"f":4.81,"r":0.3},{"w":5919,"f":5.1,"r":-0.2},{"w":5926,"f":4.7,"r":0.2},{"w":5933,"f":4.9,"r":-0.3},{"w":5940,"f":4.56,"r":0.2},{"w":5947,"f":4.9,"r":-0.1},{"w":5954,"f":4.6,"r":0.3},{"w":5961,"f":4.9,"r":-0.2},{"w":5968,"f":5.06,"r":0.4},{"w":5975,"f":4.7,"r":-0.3},{"w":5982,"f":4.9,"r":0.2},{"w":5989,"f":4.5,"r":-0.2},{"w":5996,"f":4.68,"r":0.3},{"w":6003,"f":4.4,"r":-0.3},{"w":6010,"f":4.9,"r":0.2},{"w":6017,"f":4.6,"r":-0.1},{"w":6024,"f":4.94,"r":0.4},{"w":6031,"f":4.5,"r":-0.2},{"w":6038,"f":4.8,"r":0.2},{"w":6045,"f":4.56,"r":-0.3},{"w":6052,"f":4.9,"r":0.3},{"w":6059,"f":4.4,"r":-0.2},{"w":6066,"f":4.8,"r":0.2},{"w":6073,"f":5.06,"r":0.5},{"w":6080,"f":4.6,"r":-0.2},{"w":6087,"f":4.9,"r":0.2},{"w":6094,"f":4.4,"r":-0.3},{"w":6101,"f":4.68,"r":0.3},{"w":6108,"f":4.3,"r":-0.2},{"w":6115,"f":4.7,"r":0.2},{"w":6122,"f":4.4,"r":-0.3},{"w":6129,"f":4.43,"r":0.1},{"w":6136,"f":4.2,"r":-0.4},{"w":6143,"f":4.6,"r":0.3},{"w":6150,"f":4.3,"r":-0.2},{"w":6157,"f":4.81,"r":0.4},{"w":6164,"f":4.3,"r":-0.1},{"w":6171,"f":4.6,"r":0.2},{"w":6178,"f":4.3,"r":-0.3},{"w":6185,"f":4.6,"r":0.3},{"w":6192,"f":4.1,"r":-0.4},{"w":6199,"f":4.4,"r":0.2},{"w":6206,"f":3.92,"r":-1.1},{"w":6213,"f":4.4,"r":0.2},{"w":6220,"f":4.1,"r":-0.3},{"w":6227,"f":4.5,"r":0.3},{"w":6234,"f":4.3,"r":-0.2},{"w":6241,"f":4.6,"r":0.3},{"w":6248,"f":4.0,"r":-0.4},{"w":6255,"f":4.4,"r":0.2},{"w":6262,"f":4.05,"r":-0.3},{"w":6269,"f":4.5,"r":0.3},{"w":6276,"f":4.2,"r":-0.2},{"w":6283,"f":4.56,"r":0.1},{"w":6289,"f":4.4,"r":-1.1},{"w":6293,"f":6.84,"r":2.4},{"w":6297,"f":4.2,"r":0.2},{"w":6303,"f":3.8,"r":-0.6},{"w":6310,"f":4.4,"r":0.3},{"w":6317,"f":4.0,"r":-0.3},{"w":6324,"f":4.56,"r":0.4},{"w":6331,"f":4.1,"r":-0.2},{"w":6338,"f":4.3,"r":0.3},{"w":6345,"f":3.9,"r":-0.4},{"w":6352,"f":3.92,"r":0.1},{"w":6359,"f":4.4,"r":0.4},{"w":6366,"f":4.0,"r":-0.3},{"w":6373,"f":4.4,"r":0.2},{"w":6380,"f":4.56,"r":0.5},{"w":6387,"f":4.0,"r":-0.2},{"w":6394,"f":4.3,"r":0.3},{"w":6401,"f":3.9,"r":-0.4},{"w":6408,"f":4.05,"r":0.2},{"w":6415,"f":4.4,"r":0.4},{"w":6422,"f":3.9,"r":-0.3},{"w":6429,"f":4.3,"r":0.2},{"w":6436,"f":4.43,"r":0.5},{"w":6443,"f":3.9,"r":-0.3},{"w":6450,"f":4.2,"r":0.2},{"w":6457,"f":3.8,"r":-0.4},{"w":6464,"f":3.92,"r":0.1},{"w":6471,"f":4.3,"r":0.4},{"w":6478,"f":3.9,"r":-0.3},{"w":6485,"f":4.3,"r":0.3},{"w":6492,"f":3.9,"r":-0.2},{"w":6499,"f":4.2,"r":0.3},{"w":6506,"f":3.8,"r":-0.4},{"w":6513,"f":4.05,"r":0.2},{"w":6520,"f":4.4,"r":0.6},{"w":6527,"f":3.9,"r":-0.2},{"w":6534,"f":4.2,"r":0.3},{"w":6541,"f":4.56,"r":0.8},{"w":6548,"f":4.1,"r":0.2},{"w":6555,"f":3.67,"r":-0.6},{"w":6562,"f":2.91,"r":-1.2},{"w":6568,"f":4.2,"r":0.6},{"w":6576,"f":4.56,"r":1.2},{"w":6586,"f":5.0,"r":1.5},{"w":6595,"f":5.95,"r":1.8},{"w":6601,"f":4.7,"r":0.6},{"w":6608,"f":4.81,"r":0.9},{"w":6615,"f":4.3,"r":-0.2},{"w":6622,"f":4.6,"r":0.4},{"w":6630,"f":3.92,"r":-0.4},{"w":6637,"f":4.4,"r":0.3},{"w":6644,"f":4.0,"r":-0.3},{"w":6651,"f":4.5,"r":0.4},{"w":6657,"f":4.43,"r":0.2},{"w":6664,"f":4.0,"r":-0.3},{"w":6671,"f":4.4,"r":0.3},{"w":6678,"f":3.9,"r":-0.4},{"w":6684,"f":3.92,"r":0.1},{"w":6691,"f":4.3,"r":0.4},{"w":6698,"f":4.0,"r":-0.2},{"w":6707,"f":4.3,"r":0.3},{"w":6714,"f":4.0,"r":-0.3},{"w":6720,"f":4.6,"r":0.8},{"w":6724,"f":5.95,"r":1.5},{"w":6730,"f":4.4,"r":0.4},{"w":6737,"f":4.56,"r":0.6},{"w":6744,"f":4.0,"r":-0.2},{"w":6751,"f":4.3,"r":0.3},{"w":6756,"f":3.92,"r":-0.4},{"w":6763,"f":4.3,"r":0.3},{"w":6770,"f":3.9,"r":-0.2},{"w":6777,"f":4.4,"r":0.4},{"w":6782,"f":4.3,"r":0.1},{"w":6789,"f":3.8,"r":-0.4},{"w":6796,"f":4.2,"r":0.3},{"w":6804,"f":4.43,"r":0.5},{"w":6811,"f":3.9,"r":-0.3},{"w":6818,"f":4.2,"r":0.2},{"w":6823,"f":3.92,"r":-0.2},{"w":6830,"f":4.1,"r":0.3},{"w":6835,"f":3.8,"r":-0.6},{"w":6839,"f":1.27,"r":-2.6},{"w":6843,"f":3.9,"r":0.2},{"w":6850,"f":3.8,"r":-0.4},{"w":6857,"f":4.2,"r":0.5},{"w":6864,"f":3.7,"r":-0.3},{"w":6871,"f":3.42,"r":-0.7},{"w":6878,"f":4.0,"r":0.3},{"w":6885,"f":3.6,"r":-0.3},{"w":6890,"f":3.92,"r":0.2},{"w":6897,"f":3.6,"r":-0.4},{"w":6904,"f":4.0,"r":0.3},{"w":6909,"f":3.67,"r":-0.2},{"w":6916,"f":4.1,"r":0.4},{"w":6923,"f":3.8,"r":-0.3},{"w":6930,"f":4.18,"r":0.5},{"w":6937,"f":3.8,"r":-0.2},{"w":6943,"f":4.2,"r":0.6},{"w":6948,"f":5.06,"r":1.4}
]
},
"vconcat": [
{
  "width": 374, "height": 172,
  "layer": [
    {"data": {"name": "p1"}, "mark": {"type": "line", "color": "black", "strokeWidth": 1.2, "clip": true},
     "encoding": {
       "x": {"field": "w", "type": "quantitative", "scale": {"domain": [4000, 7000], "nice": false, "zero": false},
             "axis": {"orient": "bottom", "values": [4000,4500,5000,5500,6000,6500,7000], "ticks": true, "tickSize": 6, "offset": -6, "labels": false, "title": null}},
       "y": {"field": "f", "type": "quantitative", "scale": {"domain": [-7, 40], "nice": false, "zero": false},
             "axis": {"orient": "left", "values": [0,10,20,30,40], "ticks": true, "tickColor": "black", "tickSize": 8, "offset": -8, "labelExpr": "datum.value === 0 ? '0' : (datum.value / 10) + '×10⁻¹⁶'", "labelPadding": 5, "minExtent": 59, "maxExtent": 59, "title": "Flux [erg s⁻¹ cm⁻² A⁻¹]", "titleColor": "transparent", "titlePadding": 1}}
     }},
    {"data": {"name": "p1"}, "mark": {"type": "line", "color": "#3535ff", "strokeWidth": 0.8, "clip": true},
     "encoding": {
       "x": {"field": "w", "type": "quantitative", "axis": null},
       "y": {"field": "r", "type": "quantitative", "axis": null}
     }},
    {"data": {"values": [{"label": "N5236−254"}]},
     "mark": {"type": "text", "align": "right", "baseline": "middle", "fontSize": 12, "font": "Liberation Sans", "color": "black"},
     "encoding": {"x": {"datum": 6895, "type": "quantitative", "axis": null}, "y": {"datum": 33.3, "type": "quantitative", "axis": null}, "text": {"field": "label"}}},
    {"data": {"name": "xt"}, "transform": [{"filter": "datum.m == 1"}], "mark": {"type": "rule", "color": "black", "strokeWidth": 1, "y2Offset": -6},
     "encoding": {"x": {"field": "v", "type": "quantitative", "axis": null}, "y": {"datum": -7, "type": "quantitative", "axis": null}, "y2": {"datum": -7}}},
    {"data": {"name": "xt"}, "transform": [{"filter": "datum.m == 0"}], "mark": {"type": "rule", "color": "black", "strokeWidth": 1, "y2Offset": -3},
     "encoding": {"x": {"field": "v", "type": "quantitative", "axis": null}, "y": {"datum": -7, "type": "quantitative", "axis": null}, "y2": {"datum": -7}}},
    {"data": {"name": "xt"}, "transform": [{"filter": "datum.m == 1"}], "mark": {"type": "rule", "color": "black", "strokeWidth": 1, "y2Offset": 6},
     "encoding": {"x": {"field": "v", "type": "quantitative", "axis": null}, "y": {"datum": 40, "type": "quantitative", "axis": null}, "y2": {"datum": 40}}},
    {"data": {"name": "xt"}, "transform": [{"filter": "datum.m == 0"}], "mark": {"type": "rule", "color": "black", "strokeWidth": 1, "y2Offset": 3},
     "encoding": {"x": {"field": "v", "type": "quantitative", "axis": null}, "y": {"datum": 40, "type": "quantitative", "axis": null}, "y2": {"datum": 40}}},
    {"data": {"name": "yt1"}, "transform": [{"filter": "datum.m == 1"}], "mark": {"type": "rule", "color": "black", "strokeWidth": 1, "x2Offset": 8},
     "encoding": {"y": {"field": "v", "type": "quantitative", "axis": null}, "x": {"datum": 4000, "type": "quantitative", "axis": null}, "x2": {"datum": 4000}}},
    {"data": {"name": "yt1"}, "transform": [{"filter": "datum.m == 0"}], "mark": {"type": "rule", "color": "black", "strokeWidth": 1, "x2Offset": 4},
     "encoding": {"y": {"field": "v", "type": "quantitative", "axis": null}, "x": {"datum": 4000, "type": "quantitative", "axis": null}, "x2": {"datum": 4000}}},
    {"data": {"name": "yt1"}, "transform": [{"filter": "datum.m == 1"}], "mark": {"type": "rule", "color": "black", "strokeWidth": 1, "x2Offset": -8},
     "encoding": {"y": {"field": "v", "type": "quantitative", "axis": null}, "x": {"datum": 7000, "type": "quantitative", "axis": null}, "x2": {"datum": 7000}}},
    {"data": {"name": "yt1"}, "transform": [{"filter": "datum.m == 0"}], "mark": {"type": "rule", "color": "black", "strokeWidth": 1, "x2Offset": -4},
     "encoding": {"y": {"field": "v", "type": "quantitative", "axis": null}, "x": {"datum": 7000, "type": "quantitative", "axis": null}, "x2": {"datum": 7000}}}
  ],
  "resolve": {"axis": {"x": "independent", "y": "independent"}}
},
{
  "width": 374, "height": 185,
  "layer": [
    {"data": {"name": "p2"}, "mark": {"type": "line", "color": "black", "strokeWidth": 1.2, "clip": true},
     "encoding": {
       "x": {"field": "w", "type": "quantitative", "scale": {"domain": [4000, 7000], "nice": false, "zero": false},
             "axis": {"orient": "bottom", "values": [4000,4500,5000,5500,6000,6500,7000], "ticks": true, "tickSize": 6, "offset": -6, "labels": false, "title": null}},
       "y": {"field": "f", "type": "quantitative", "scale": {"domain": [-1.2, 6.8], "nice": false, "zero": false},
             "axis": {"orient": "left", "values": [0,2,4,6], "ticks": true, "tickColor": "black", "tickSize": 8, "offset": -8, "labelExpr": "datum.value === 0 ? '0' : datum.value + '×10⁻¹⁷'", "labelPadding": 5, "minExtent": 59, "maxExtent": 59, "title": "Flux [erg s⁻¹ cm⁻² A⁻¹]", "titlePadding": 1}}
     }},
    {"data": {"name": "p2"}, "mark": {"type": "line", "color": "#3535ff", "strokeWidth": 0.8, "clip": true},
     "encoding": {
       "x": {"field": "w", "type": "quantitative", "axis": null},
       "y": {"field": "r", "type": "quantitative", "axis": null}
     }},
    {"data": {"values": [{"label": "N5236−487"}]},
     "mark": {"type": "text", "align": "right", "baseline": "middle", "fontSize": 12, "font": "Liberation Sans", "color": "black"},
     "encoding": {"x": {"datum": 6895, "type": "quantitative", "axis": null}, "y": {"datum": 5.6, "type": "quantitative", "axis": null}, "text": {"field": "label"}}},
    {"data": {"name": "xt"}, "transform": [{"filter": "datum.m == 1"}], "mark": {"type": "rule", "color": "black", "strokeWidth": 1, "y2Offset": -6},
     "encoding": {"x": {"field": "v", "type": "quantitative", "axis": null}, "y": {"datum": -1.2, "type": "quantitative", "axis": null}, "y2": {"datum": -1.2}}},
    {"data": {"name": "xt"}, "transform": [{"filter": "datum.m == 0"}], "mark": {"type": "rule", "color": "black", "strokeWidth": 1, "y2Offset": -3},
     "encoding": {"x": {"field": "v", "type": "quantitative", "axis": null}, "y": {"datum": -1.2, "type": "quantitative", "axis": null}, "y2": {"datum": -1.2}}},
    {"data": {"name": "xt"}, "transform": [{"filter": "datum.m == 1"}], "mark": {"type": "rule", "color": "black", "strokeWidth": 1, "y2Offset": 6},
     "encoding": {"x": {"field": "v", "type": "quantitative", "axis": null}, "y": {"datum": 6.8, "type": "quantitative", "axis": null}, "y2": {"datum": 6.8}}},
    {"data": {"name": "xt"}, "transform": [{"filter": "datum.m == 0"}], "mark": {"type": "rule", "color": "black", "strokeWidth": 1, "y2Offset": 3},
     "encoding": {"x": {"field": "v", "type": "quantitative", "axis": null}, "y": {"datum": 6.8, "type": "quantitative", "axis": null}, "y2": {"datum": 6.8}}},
    {"data": {"name": "yt2"}, "transform": [{"filter": "datum.m == 1"}], "mark": {"type": "rule", "color": "black", "strokeWidth": 1, "x2Offset": 8},
     "encoding": {"y": {"field": "v", "type": "quantitative", "axis": null}, "x": {"datum": 4000, "type": "quantitative", "axis": null}, "x2": {"datum": 4000}}},
    {"data": {"name": "yt2"}, "transform": [{"filter": "datum.m == 0"}], "mark": {"type": "rule", "color": "black", "strokeWidth": 1, "x2Offset": 4},
     "encoding": {"y": {"field": "v", "type": "quantitative", "axis": null}, "x": {"datum": 4000, "type": "quantitative", "axis": null}, "x2": {"datum": 4000}}},
    {"data": {"name": "yt2"}, "transform": [{"filter": "datum.m == 1"}], "mark": {"type": "rule", "color": "black", "strokeWidth": 1, "x2Offset": -8},
     "encoding": {"y": {"field": "v", "type": "quantitative", "axis": null}, "x": {"datum": 7000, "type": "quantitative", "axis": null}, "x2": {"datum": 7000}}},
    {"data": {"name": "yt2"}, "transform": [{"filter": "datum.m == 0"}], "mark": {"type": "rule", "color": "black", "strokeWidth": 1, "x2Offset": -4},
     "encoding": {"y": {"field": "v", "type": "quantitative", "axis": null}, "x": {"datum": 7000, "type": "quantitative", "axis": null}, "x2": {"datum": 7000}}}
  ],
  "resolve": {"axis": {"x": "independent", "y": "independent"}}
},
{
  "width": 374, "height": 173,
  "layer": [
    {"data": {"name": "p3"}, "mark": {"type": "line", "color": "black", "strokeWidth": 1.2, "clip": true},
     "encoding": {
       "x": {"field": "w", "type": "quantitative", "scale": {"domain": [4000, 7000], "nice": false, "zero": false},
             "axis": {"orient": "bottom", "values": [4000,4500,5000,5500,6000,6500,7000], "ticks": true, "tickSize": 6, "offset": -6, "labelExpr": "'' + datum.value", "labelPadding": 6, "title": "Wavelength [Å]", "titlePadding": 3}},
       "y": {"field": "f", "type": "quantitative", "scale": {"domain": [-2, 11.1], "nice": false, "zero": false},
             "axis": {"orient": "left", "values": [-2,0,2,4,6,8,10], "ticks": true, "tickColor": "black", "tickSize": 8, "offset": -8, "labelExpr": "datum.value === 0 ? '0' : (datum.value === 10 ? '1×10⁻¹⁶' : (datum.value === -2 ? '−2×10⁻¹⁷' : datum.value + '×10⁻¹⁷'))", "labelPadding": 5, "minExtent": 59, "maxExtent": 59, "title": "Flux [erg s⁻¹ cm⁻² A⁻¹]", "titleColor": "transparent", "titlePadding": 1}}
     }},
    {"data": {"name": "p3"}, "mark": {"type": "line", "color": "#3535ff", "strokeWidth": 0.8, "clip": true},
     "encoding": {
       "x": {"field": "w", "type": "quantitative", "axis": null},
       "y": {"field": "r", "type": "quantitative", "axis": null}
     }},
    {"data": {"values": [{"label": "N3621−1106"}]},
     "mark": {"type": "text", "align": "right", "baseline": "middle", "fontSize": 12, "font": "Liberation Sans", "color": "black"},
     "encoding": {"x": {"datum": 6895, "type": "quantitative", "axis": null}, "y": {"datum": 9.15, "type": "quantitative", "axis": null}, "text": {"field": "label"}}},
    {"data": {"name": "xt"}, "transform": [{"filter": "datum.m == 1"}], "mark": {"type": "rule", "color": "black", "strokeWidth": 1, "y2Offset": -6},
     "encoding": {"x": {"field": "v", "type": "quantitative", "axis": null}, "y": {"datum": -2, "type": "quantitative", "axis": null}, "y2": {"datum": -2}}},
    {"data": {"name": "xt"}, "transform": [{"filter": "datum.m == 0"}], "mark": {"type": "rule", "color": "black", "strokeWidth": 1, "y2Offset": -3},
     "encoding": {"x": {"field": "v", "type": "quantitative", "axis": null}, "y": {"datum": -2, "type": "quantitative", "axis": null}, "y2": {"datum": -2}}},
    {"data": {"name": "xt"}, "transform": [{"filter": "datum.m == 1"}], "mark": {"type": "rule", "color": "black", "strokeWidth": 1, "y2Offset": 6},
     "encoding": {"x": {"field": "v", "type": "quantitative", "axis": null}, "y": {"datum": 11.1, "type": "quantitative", "axis": null}, "y2": {"datum": 11.1}}},
    {"data": {"name": "xt"}, "transform": [{"filter": "datum.m == 0"}], "mark": {"type": "rule", "color": "black", "strokeWidth": 1, "y2Offset": 3},
     "encoding": {"x": {"field": "v", "type": "quantitative", "axis": null}, "y": {"datum": 11.1, "type": "quantitative", "axis": null}, "y2": {"datum": 11.1}}},
    {"data": {"name": "yt3"}, "transform": [{"filter": "datum.m == 1"}], "mark": {"type": "rule", "color": "black", "strokeWidth": 1, "x2Offset": 8},
     "encoding": {"y": {"field": "v", "type": "quantitative", "axis": null}, "x": {"datum": 4000, "type": "quantitative", "axis": null}, "x2": {"datum": 4000}}},
    {"data": {"name": "yt3"}, "transform": [{"filter": "datum.m == 0"}], "mark": {"type": "rule", "color": "black", "strokeWidth": 1, "x2Offset": 4},
     "encoding": {"y": {"field": "v", "type": "quantitative", "axis": null}, "x": {"datum": 4000, "type": "quantitative", "axis": null}, "x2": {"datum": 4000}}},
    {"data": {"name": "yt3"}, "transform": [{"filter": "datum.m == 1"}], "mark": {"type": "rule", "color": "black", "strokeWidth": 1, "x2Offset": -8},
     "encoding": {"y": {"field": "v", "type": "quantitative", "axis": null}, "x": {"datum": 7000, "type": "quantitative", "axis": null}, "x2": {"datum": 7000}}},
    {"data": {"name": "yt3"}, "transform": [{"filter": "datum.m == 0"}], "mark": {"type": "rule", "color": "black", "strokeWidth": 1, "x2Offset": -4},
     "encoding": {"y": {"field": "v", "type": "quantitative", "axis": null}, "x": {"datum": 7000, "type": "quantitative", "axis": null}, "x2": {"datum": 7000}}}
  ],
  "resolve": {"axis": {"x": "independent", "y": "independent"}}
}
]
}
